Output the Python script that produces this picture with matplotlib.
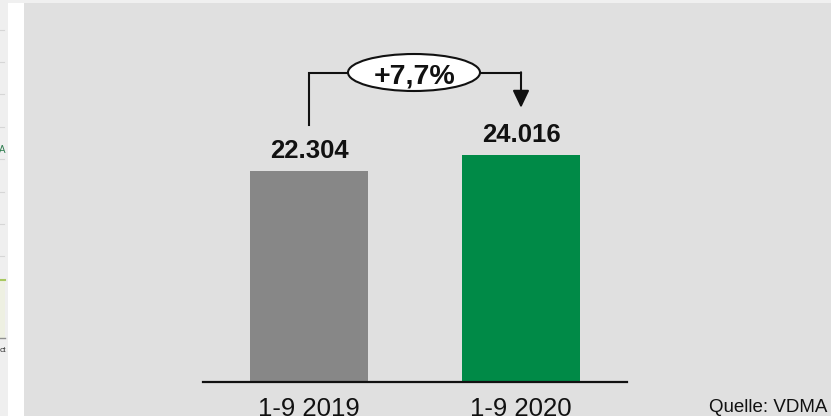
import matplotlib
matplotlib.use('Agg')
import matplotlib.pyplot as plt
from matplotlib.patches import Rectangle, Ellipse

plt.rcParams['font.family'] = ['Liberation Sans', 'DejaVu Sans']

# data
periods = ['1-9 2019', '1-9 2020']
values = [22304, 24016]
value_labels = ['22.304', '24.016']
change_label = '+7,7%'
source = 'Quelle: VDMA'

bar_colors = ['#878787', '#008a47']
panel_color = '#e0e0e0'

W, H = 831, 416
fig = plt.figure(figsize=(W / 100, H / 100), dpi=100)
fig.patch.set_facecolor('white')

# background: page strip on the left + grey panel
bg = fig.add_axes([0, 0, 1, 1])
bg.set_xlim(0, W)
bg.set_ylim(H, 0)
bg.axis('off')
bg.add_patch(Rectangle((0, 0), 8, H, color='#efefef', lw=0))
bg.add_patch(Rectangle((8, 0), W - 8, 3, color='#f0f0f0', lw=0))
bg.add_patch(Rectangle((24, 3), W - 24, H - 3, color=panel_color, lw=0))
for yy in [30, 62, 94, 127, 159, 192, 224, 256]:
    bg.plot([0, 4], [yy, yy], color='#d6d6d6', lw=0.8)
bg.add_patch(Rectangle((0, 280), 5, 58, color='#eef0e2', lw=0))
bg.plot([0, 5], [280, 280], color='#a8c860', lw=1.5)
bg.plot([0, 5], [338, 338], color='#909090', lw=1)
bg.text(2, 150, 'A', color='#2e7d4f', fontsize=7, va='center', ha='center')
bg.text(0, 350, 'ct', color='#333333', fontsize=6, va='center', ha='left')
bg.text(W - 4, 412, source, fontsize=13.5, ha='right', va='baseline', color='#111111')

# bar axes
base_px = 34          # baseline height above the bottom edge
top_px = 413
left_px, right_px = 203, 627
ax = fig.add_axes([left_px / W, base_px / H, (right_px - left_px) / W, (top_px - base_px) / H])
ax.patch.set_visible(False)
px_per_unit = 211 / values[0]
ymax = (top_px - base_px) / px_per_unit
ax.set_xlim(-0.5, 1.5)
ax.set_ylim(0, ymax)

x = [0, 1]
ax.bar(x, values, width=0.557, color=bar_colors, zorder=2)

for sp in ['top', 'left', 'right']:
    ax.spines[sp].set_visible(False)
ax.spines['bottom'].set_linewidth(1.6)
ax.spines['bottom'].set_color('#111111')
ax.set_yticks([])
ax.set_xticks([])

# category labels under the baseline
for xi, lab in zip(x, periods):
    ax.annotate(lab, (xi, 0), xytext=(0, -34.5), textcoords='offset pixels',
                ha='center', va='baseline', fontsize=18.5, color='#111111',
                annotation_clip=False)

for xi, v, lab in zip(x, values, value_labels):
    ax.annotate(lab, (xi, v), xytext=(0, 12.5), textcoords='offset pixels',
                ha='center', va='baseline', fontsize=18.5, fontweight='bold', color='#111111')

# bracket with the change
d = 1 / px_per_unit   # data units per pixel
y_level = 309 * d
y_left = values[0] + 46 * d
y_tip = values[1] + 47 * d
ell_w = 132 / 212
ell_h = 37 * d
ax.plot([0, 0, 0.5 - ell_w / 2], [y_left, y_level, y_level], color='#111111', lw=1.5,
        solid_joinstyle='miter', clip_on=False)
ax.plot([0.5 + ell_w / 2, 1], [y_level, y_level], color='#111111', lw=1.5, clip_on=False)
ax.annotate('', xy=(1, y_tip), xytext=(1, y_level + 0.75 * d),
            arrowprops=dict(arrowstyle='-|>,head_length=10.5,head_width=5',
                            mutation_scale=1, color='#111111', lw=1.5,
                            shrinkA=0, shrinkB=0), annotation_clip=False)
ax.add_patch(Ellipse((0.5 - 1 / 212, y_level + 0.5 * d), ell_w, ell_h, facecolor='white',
                     edgecolor='#111111', lw=1.5, clip_on=False, zorder=3))
ax.text(0.5, y_level - 10.5 * d, change_label, ha='center', va='baseline', fontsize=20.5,
        fontweight='bold', color='#111111', zorder=4)

fig.savefig('out.png', dpi=100, facecolor=fig.get_facecolor())
